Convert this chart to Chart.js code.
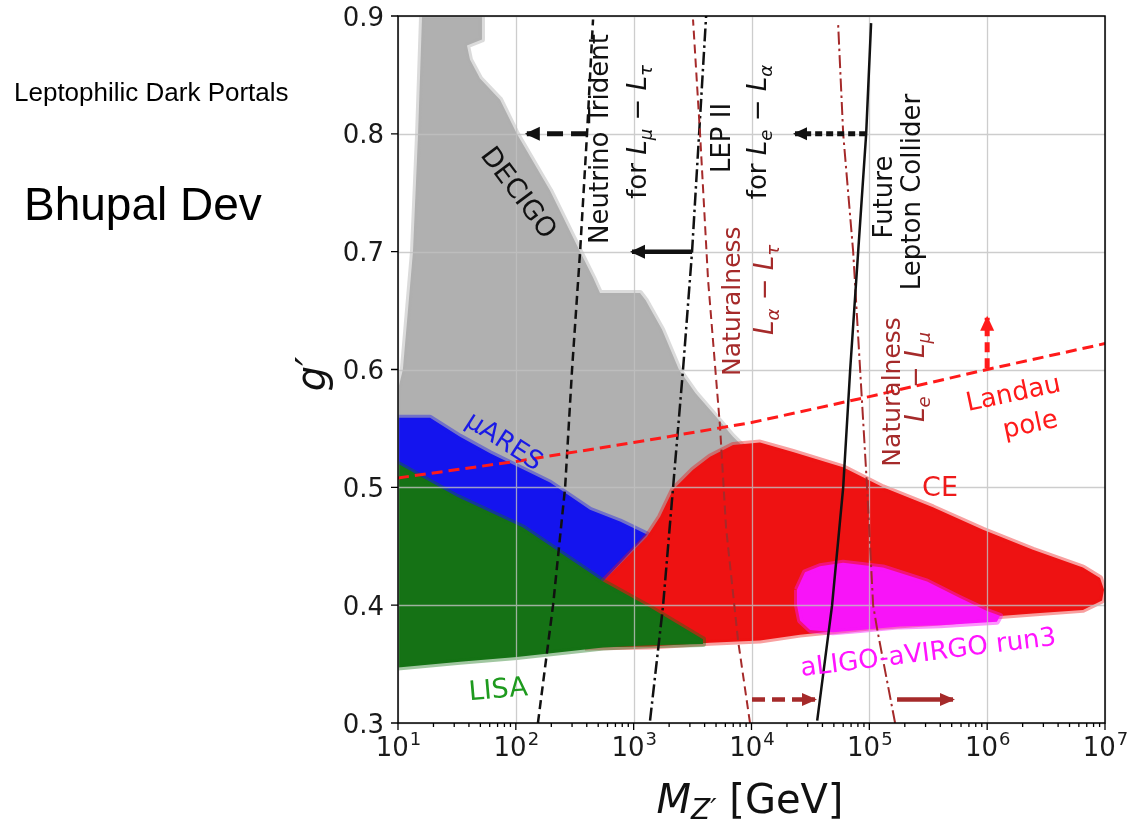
<!DOCTYPE html>
<html>
<head>
<meta charset="utf-8">
<script src="https://cdn.jsdelivr.net/npm/chart.js@4.4.1/dist/chart.umd.min.js"></script>
<style>
  html, body { margin: 0; padding: 0; background: #ffffff; }
  canvas { display: block; }
</style>
</head>
<body>
<canvas id="plot" width="1130" height="822"></canvas>
<script>
// ---------------- data (M_Z' in GeV, g' dimensionless) ----------------

// Gravitational-wave sensitivity regions (closed outlines)
const decigoMass = [16.0, 51.6, 51.6, 38.5, 40.8, 49.7, 73.5, 102, 195, 351, 452, 518, 1132, 1260, 1740, 2420, 3340, 4700, 6970, 8810, 11800, 3660, 518, 10, 10, 11.0, 13.4, 14.8];
const decigoG    = [0.900, 0.900, 0.880, 0.875, 0.863, 0.847, 0.829, 0.800, 0.752, 0.700, 0.678, 0.665, 0.665, 0.659, 0.634, 0.600, 0.580, 0.563, 0.543, 0.533, 0.515, 0.421, 0.404, 0.404, 0.583, 0.600, 0.700, 0.800];

const muaresMass = [10, 18.7, 33.6, 60.4, 195, 426, 766, 1297, 550, 10];
const muaresG    = [0.559, 0.559, 0.543, 0.529, 0.504, 0.481, 0.471, 0.460, 0.420, 0.510];

const ceMass = [386, 550, 1297, 1675, 2158, 3192, 4446, 6970, 11800, 22490, 59840, 130600, 346700, 922500, 2449000, 6501000, 9078000, 9817000, 9441000, 6501000, 2449000, 997700, 484200, 101400, 25820, 11800, 4446, 1377];
const ceG    = [0.364, 0.420, 0.458, 0.475, 0.498, 0.515, 0.526, 0.536, 0.538, 0.530, 0.517, 0.500, 0.483, 0.464, 0.447, 0.432, 0.423, 0.413, 0.404, 0.396, 0.393, 0.390, 0.386, 0.381, 0.375, 0.370, 0.368, 0.365];

const lisaMass = [10, 31.7, 115, 550, 1377, 3873, 3873, 1377, 550, 102, 33.6, 10];
const lisaG    = [0.520, 0.492, 0.466, 0.420, 0.398, 0.371, 0.367, 0.366, 0.364, 0.356, 0.352, 0.347];

const aligoMass = [24320, 28440, 38110, 59840, 130600, 309000, 587500, 997700, 1285000, 1211000, 869000, 398100, 182000, 83370, 49200, 31410, 25820, 24320];
const aligoG    = [0.413, 0.428, 0.433, 0.436, 0.432, 0.420, 0.406, 0.395, 0.391, 0.386, 0.385, 0.383, 0.382, 0.379, 0.377, 0.379, 0.387, 0.400];

// Exclusion / theory curves
const tridentG    = [0.3, 0.4, 0.5, 0.6, 0.7, 0.8, 0.897];
const tridentMass = [154, 207, 262, 300, 351, 402, 452];

const lep2G    = [0.302, 0.4, 0.5, 0.6, 0.7, 0.8, 0.9];
const lep2Mass = [1377, 1778, 2160, 2624, 3130, 3592, 4120];

const natTauG    = [0.3, 0.370, 0.466, 0.551, 0.676, 0.8, 0.897];
const natTauMass = [9710, 7690, 6080, 5410, 4280, 3660, 3190];

const natMuG    = [0.3, 0.38, 0.4, 0.5, 0.6, 0.7, 0.8, 0.894];
const natMuMass = [165400, 116400, 107700, 95700, 83500, 72900, 60000, 54300];

const colliderG    = [0.302, 0.4, 0.5, 0.6, 0.7, 0.8, 0.894];
const colliderMass = [36100, 48300, 60000, 68800, 80400, 94000, 103500];

const landauMass = [10, 100, 1000, 1e4, 1e5, 1e6, 1e7];
const landauG    = [0.508, 0.522, 0.538, 0.555, 0.577, 0.600, 0.622];

// Arrows (start -> tip)
const tridentArrowMass  = [402, 124];     const tridentArrowG  = [0.8, 0.8];
const lep2ArrowMass     = [3130, 968];    const lep2ArrowG     = [0.7, 0.7];
const colliderArrowMass = [94000, 23400]; const colliderArrowG = [0.8, 0.8];
const natTauArrowMass   = [10100, 34600]; const natTauArrowG   = [0.32, 0.32];
const natMuArrowMass    = [171800, 513000]; const natMuArrowG  = [0.32, 0.32];
const landauArrowMass   = [1e6, 1e6];     const landauArrowG   = [0.601, 0.644];

// Axis ticks
const xDecades = [1, 2, 3, 4, 5, 6, 7];
const yTickValues = [0.3, 0.4, 0.5, 0.6, 0.7, 0.8, 0.9];
const yTickLabels = ['0.3', '0.4', '0.5', '0.6', '0.7', '0.8', '0.9'];

// ---------------- styling ----------------
const BLACK = '#111111';
const BROWN = '#a52a2a';
const RED = '#ff1a1a';
const FONT = "'DejaVu Sans'";

const pts = (xs, ys) => xs.map((x, i) => ({ x, y: ys[i] }));
const closed = (xs, ys) => { const p = pts(xs, ys); p.push({ ...p[0] }); return p; };

function region(label, xs, ys, fill, edge, order) {
  return {
    label, data: closed(xs, ys), showLine: true, fill: 'shape',
    backgroundColor: fill, borderColor: edge, borderWidth: 6,
    borderJoinStyle: 'round', pointRadius: 0, tension: 0, order
  };
}
function curve(label, xs, ys, color, width, dash, order, head) {
  return {
    label, data: pts(xs, ys), showLine: true, fill: false,
    borderColor: color, backgroundColor: color, borderWidth: width,
    borderDash: dash, borderCapStyle: 'butt', pointRadius: 0, tension: 0,
    order, arrowHead: head || null
  };
}

const datasets = [
  region('DECIGO', decigoMass, decigoG, '#b0b0b0', 'rgba(176,176,176,0.45)', 30),
  region('μARES', muaresMass, muaresG, '#1414ee', 'rgba(20,20,238,0.4)', 29),
  region('CE', ceMass, ceG, '#ee1212', 'rgba(238,18,18,0.4)', 28),
  region('LISA', lisaMass, lisaG, '#157215', 'rgba(21,114,21,0.4)', 27),
  region('aLIGO-aVIRGO run3', aligoMass, aligoG, '#f814f8', 'rgba(248,20,248,0.45)', 26),

  curve('Neutrino Trident', tridentMass, tridentG, BLACK, 2.5, [9, 5], 10),
  curve('LEP II', lep2Mass, lep2G, BLACK, 2.5, [13, 4, 2.5, 4], 9),
  curve('Naturalness Lα−Lτ', natTauMass, natTauG, BROWN, 2, [9, 5], 8),
  curve('Naturalness Le−Lμ', natMuMass, natMuG, BROWN, 2, [13, 4, 2.5, 4], 7),
  curve('Future Lepton Collider', colliderMass, colliderG, BLACK, 2.5, [], 6),
  curve('Landau pole', landauMass, landauG, RED, 3, [11, 6], 5),

  curve('trident arrow', tridentArrowMass, tridentArrowG, BLACK, 5, [16, 8], 1, { len: 13, w: 14 }),
  curve('LEP II arrow', lep2ArrowMass, lep2ArrowG, BLACK, 4.5, [], 1, { len: 13, w: 14 }),
  curve('collider arrow', colliderArrowMass, colliderArrowG, BLACK, 5, [7, 4], 1, { len: 12, w: 13 }),
  curve('naturalness τ arrow', natTauArrowMass, natTauArrowG, BROWN, 4.5, [13, 7], 1, { len: 13, w: 13 }),
  curve('naturalness μ arrow', natMuArrowMass, natMuArrowG, BROWN, 4.5, [], 1, { len: 13, w: 13 }),
  curve('Landau arrow', landauArrowMass, landauArrowG, RED, 5, [10, 6], 1, { len: 13, w: 14 })
];

// ---------------- text labels ----------------
const it = (t) => ({ t, it: true });
const sub = (t) => ({ t, it: true, sub: true });
const txt = (t) => ({ t });

const annotations = [
  { segs: [txt('DECIGO')], at: [108, 0.7506], rot: 53, size: 27, color: BLACK },
  { segs: [txt('Neutrino Trident')], at: [508, 0.7956], rot: -90, size: 26, color: BLACK },
  { segs: [txt('for '), it('L'), sub('μ'), txt(' − '), it('L'), sub('τ')], at: [1067, 0.8016], rot: -90, size: 26, color: BLACK },
  { segs: [txt('LEP II')], at: [5510, 0.7965], rot: -90, size: 26, color: BLACK },
  { segs: [txt('for '), it('L'), sub('e'), txt(' − '), it('L'), sub('α')], at: [11140, 0.8016], rot: -90, size: 26, color: BLACK },
  { segs: [txt('Naturalness')], at: [6700, 0.658], rot: -90, size: 25, color: BROWN },
  { segs: [it('L'), sub('α'), txt(' − '), it('L'), sub('τ')], at: [12760, 0.6675], rot: -90, size: 26, color: BROWN },
  { segs: [txt('Future')], at: [130600, 0.7464], rot: -90, size: 26, color: BLACK },
  { segs: [txt('Lepton Collider')], at: [225900, 0.7506], rot: -90, size: 26, color: BLACK },
  { segs: [txt('Naturalness')], at: [152800, 0.581], rot: -90, size: 25, color: BROWN },
  { segs: [it('L'), sub('e'), txt(' − '), it('L'), sub('μ')], at: [244300, 0.5936], rot: -90, size: 26, color: BROWN },
  { segs: [txt('Landau')], at: [1656000, 0.581], rot: -12, size: 26, color: RED },
  { segs: [txt('pole')], at: [2310000, 0.5546], rot: -12, size: 26, color: RED },
  { segs: [txt('CE')], at: [398000, 0.501], rot: 0, size: 27, color: '#ee1a1a' },
  { segs: [txt('μARES')], at: [80.9, 0.540], rot: 33, size: 26, color: '#1a1ae6' },
  { segs: [txt('LISA')], at: [70.6, 0.3297], rot: -5, size: 27, color: '#1e9a1e' },
  { segs: [txt('aLIGO-aVIRGO run3')], at: [314800, 0.361], rot: -7, size: 26, color: '#ff14ff' }
];

function drawRich(ctx, segs, x, y, rot, size, color) {
  ctx.save();
  ctx.translate(x, y);
  ctx.rotate(rot * Math.PI / 180);
  let total = 0;
  const parts = segs.map(s => {
    const fs = s.sub ? size * 0.7 : size;
    const font = (s.it ? 'italic ' : '') + fs + 'px ' + FONT;
    ctx.font = font;
    const w = ctx.measureText(s.t).width;
    total += w;
    return { t: s.t, font, w, dy: s.sub ? size * 0.22 : 0 };
  });
  let cx = -total / 2;
  ctx.fillStyle = color;
  ctx.textBaseline = 'alphabetic';
  ctx.textAlign = 'left';
  for (const p of parts) {
    ctx.font = p.font;
    ctx.fillText(p.t, cx, size * 0.36 + p.dy);
    cx += p.w;
  }
  ctx.restore();
}

// ---------------- plugins ----------------
const gridOverRegions = {
  id: 'gridOverRegions',
  afterDatasetDraw(chart, args) {
    const ds = chart.data.datasets[args.index];
    if (ds.label !== 'aLIGO-aVIRGO run3') return;
    const { ctx, chartArea: a, scales: { x, y } } = chart;
    ctx.save();
    ctx.strokeStyle = 'rgba(192,192,192,0.8)';
    ctx.lineWidth = 1.3;
    ctx.beginPath();
    for (const d of xDecades) {
      const px = Math.round(x.getPixelForValue(Math.pow(10, d))) + 0.5;
      ctx.moveTo(px, a.top); ctx.lineTo(px, a.bottom);
    }
    for (const v of yTickValues) {
      const py = Math.round(y.getPixelForValue(v)) + 0.5;
      ctx.moveTo(a.left, py); ctx.lineTo(a.right, py);
    }
    ctx.stroke();
    ctx.restore();
  }
};

const arrowHeads = {
  id: 'arrowHeads',
  afterDatasetsDraw(chart) {
    const { ctx } = chart;
    chart.data.datasets.forEach((ds, i) => {
      if (!ds.arrowHead) return;
      const p = chart.getDatasetMeta(i).data;
      const a = p[p.length - 2], b = p[p.length - 1];
      const dx = b.x - a.x, dy = b.y - a.y, L = Math.hypot(dx, dy) || 1;
      const ux = dx / L, uy = dy / L, nx = -uy, ny = ux;
      const { len, w } = ds.arrowHead;
      const bx = b.x - ux * len, by = b.y - uy * len;
      ctx.save();
      ctx.fillStyle = ds.borderColor;
      ctx.beginPath();
      ctx.moveTo(b.x + ux * 2, b.y + uy * 2);
      ctx.lineTo(bx + nx * w / 2, by + ny * w / 2);
      ctx.lineTo(bx - nx * w / 2, by - ny * w / 2);
      ctx.closePath();
      ctx.fill();
      ctx.restore();
    });
    // labels above everything in the plot
    const { scales: { x, y } } = chart;
    for (const an of annotations) {
      drawRich(ctx, an.segs, x.getPixelForValue(an.at[0]), y.getPixelForValue(an.at[1]), an.rot, an.size, an.color);
    }
  }
};

const frameAndAxes = {
  id: 'frameAndAxes',
  afterDraw(chart) {
    const { ctx, chartArea: a, scales: { x, y } } = chart;
    ctx.save();
    // frame
    ctx.strokeStyle = '#000';
    ctx.lineWidth = 1.5;
    ctx.strokeRect(a.left, a.top, a.right - a.left, a.bottom - a.top);
    // x ticks (major + minor) and y ticks
    ctx.lineWidth = 1.3;
    ctx.beginPath();
    for (let d = 1; d <= 7; d++) {
      const px = x.getPixelForValue(Math.pow(10, d));
      ctx.moveTo(px, a.bottom); ctx.lineTo(px, a.bottom + 7);
      if (d < 7) {
        for (let k = 2; k <= 9; k++) {
          const mx = x.getPixelForValue(k * Math.pow(10, d));
          ctx.moveTo(mx, a.bottom); ctx.lineTo(mx, a.bottom + 4);
        }
      }
    }
    for (const v of yTickValues) {
      const py = y.getPixelForValue(v);
      ctx.moveTo(a.left, py); ctx.lineTo(a.left - 7, py);
    }
    ctx.stroke();
    // y tick labels
    ctx.fillStyle = '#1a1a1a';
    ctx.font = '26px ' + FONT;
    ctx.textAlign = 'right';
    ctx.textBaseline = 'alphabetic';
    yTickValues.forEach((v, i) => {
      ctx.fillText(yTickLabels[i], a.left - 14, y.getPixelForValue(v) + 9.5);
    });
    // x tick labels 10^n
    ctx.textAlign = 'left';
    for (const d of xDecades) {
      const px = x.getPixelForValue(Math.pow(10, d));
      ctx.font = '26px ' + FONT;
      const wb = ctx.measureText('10').width;
      ctx.font = '18px ' + FONT;
      const we = ctx.measureText(String(d)).width;
      const start = px - (wb + we) / 2;
      ctx.font = '26px ' + FONT;
      ctx.fillText('10', start, a.bottom + 33);
      ctx.font = '18px ' + FONT;
      ctx.fillText(String(d), start + wb + 1, a.bottom + 22);
    }
    // axis titles
    drawRich(ctx, [it('g'), it('′')], 311, 374, -90, 40, '#111');
    ctx.textBaseline = 'alphabetic';
    const segs = [
      { t: 'M', font: 'italic 40px ' + FONT, dy: 0 },
      { t: 'Z′', font: 'italic 28px ' + FONT, dy: 6 },
      { t: ' [GeV]', font: '40px ' + FONT, dy: 0 }
    ];
    let tot = 0;
    for (const s of segs) { ctx.font = s.font; s.w = ctx.measureText(s.t).width; tot += s.w; }
    let cx = 750 - tot / 2;
    ctx.fillStyle = '#111';
    for (const s of segs) { ctx.font = s.font; ctx.fillText(s.t, cx, 813 + s.dy); cx += s.w; }
    // side captions
    ctx.fillStyle = '#000';
    ctx.font = "26px 'Liberation Sans', Arial, sans-serif";
    ctx.fillText('Leptophilic Dark Portals', 14, 101);
    ctx.font = "46px 'Liberation Sans', Arial, sans-serif";
    ctx.fillText('Bhupal Dev', 24, 220);
    ctx.restore();
  }
};

Chart.defaults.font.family = FONT;

new Chart(document.getElementById('plot'), {
  type: 'scatter',
  data: { datasets },
  options: {
    responsive: false,
    devicePixelRatio: 1,
    animation: false,
    layout: { padding: { top: 16, right: 25, left: 0, bottom: 0 } },
    plugins: { legend: { display: false }, tooltip: { enabled: false } },
    elements: { line: { tension: 0 } },
    scales: {
      x: {
        type: 'logarithmic', min: 10, max: 1e7,
        grid: { display: false }, border: { display: false },
        ticks: { display: false },
        afterFit: (s) => { s.height = 99; }
      },
      y: {
        type: 'linear', min: 0.3, max: 0.9,
        grid: { display: false }, border: { display: false },
        ticks: { display: false },
        afterFit: (s) => { s.width = 398; }
      }
    }
  },
  plugins: [gridOverRegions, arrowHeads, frameAndAxes]
});
</script>
</body>
</html>
